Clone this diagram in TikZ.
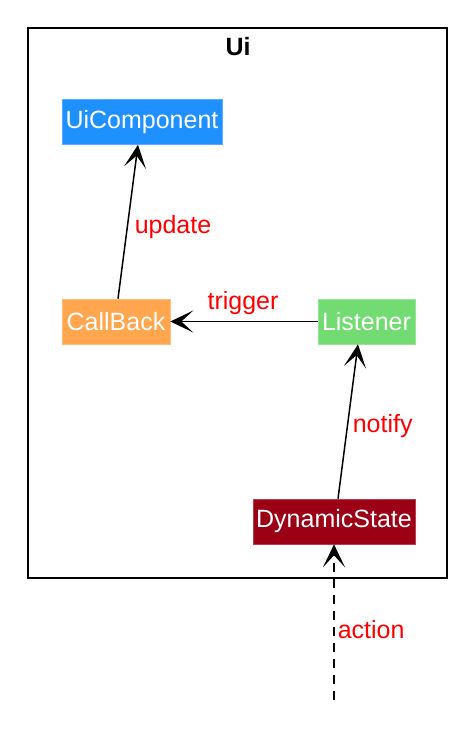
\documentclass[tikz,border=0pt]{standalone}
\usepackage{fontspec}
\setmainfont{Liberation Sans}
\usepackage{xcolor}
\usetikzlibrary{
	positioning,
	arrows.meta,
	calc}
\definecolor{uiblue}{HTML}{1E90FF}
\definecolor{cborange}{HTML}{FFA64F}
\definecolor{lsgreen}{HTML}{72DC72}
\definecolor{dsred}{HTML}{9B0014}
\tikzset{
	comp/.style={
		rectangle,
		draw=#1!75!white,
		fill=#1,
		text=white,
		line width=0.3pt,
		inner sep=0pt,
		minimum height=22.5pt,
		font=\fontsize{12.5}{15}\selectfont
	},
	flow/.style={
		-{Stealth[length=11.5pt, width=11pt, inset=6pt]},
		line width=0.75pt
	},
	flow label/.style={
		text=red,
		inner sep=1pt,
		font=\fontsize{12.5}{15}\selectfont
	},
	frame/.style={
		draw,
		line width=1.3pt
	},
}
\begin{document}
\begin{tikzpicture}[x=0.5pt, y=-0.5pt]
	\useasboundingbox (0,0) rectangle (466,734);
	\draw[frame] (28,28) rectangle (447,578);
	\node[font=\bfseries\fontsize{12.5}{15}\selectfont] (title) at (238,47) {Ui};
	\node[comp=uiblue, minimum width=80pt] (uicomp) at (142,122) {UiComponent};
	\node[comp=cborange, minimum width=54pt] (callback) at (116,321.5) {CallBack};
	\node[comp=lsgreen, minimum width=48.5pt] (listener) at (366.5,321.5) {Listener};
	\node[comp=dsred, minimum width=81pt] (dynstate) at (334,521.5) {DynamicState};
	\coordinate (source) at (334,700);
	\draw[flow] ($(callback.north)+(2,0)$) -- node[flow label, anchor=west, xshift=2pt, yshift=-2.5pt] {update} ($(uicomp.south)+(-4,0)$);
	\draw[flow] (listener.west) -- node[flow label, anchor=south, xshift=-0.5pt, yshift=2pt] {trigger} (callback.east);
	\draw[flow] ($(dynstate.north)+(4,0)$) -- node[flow label, anchor=west, xshift=1pt, yshift=-2.5pt] {notify} ($(listener.south)+(-8.5,0)$);
	\draw[flow, dash pattern=on 4.5pt off 3.5pt] (source) -- node[flow label, anchor=west, pos=0.45, xshift=0.5pt] {action} (dynstate.south);
\end{tikzpicture}
\end{document}
